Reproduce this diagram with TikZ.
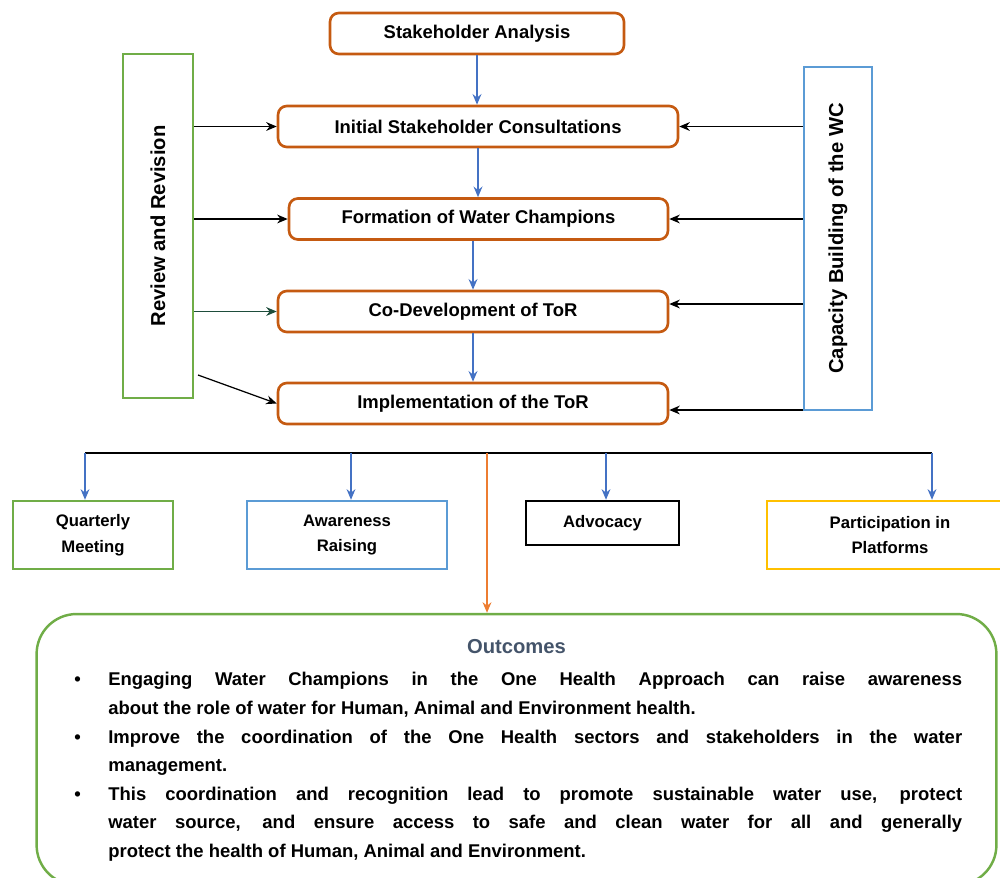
\documentclass[tikz,border=0pt]{standalone}
\usepackage{fontspec}
\setmainfont{Liberation Sans}
\usetikzlibrary{positioning,arrows.meta,shapes}

\definecolor{boxorange}{HTML}{C55A11}
\definecolor{boxgreen}{HTML}{70AD47}
\definecolor{boxblue}{HTML}{5B9BD5}
\definecolor{boxyellow}{HTML}{FFC000}
\definecolor{flowblue}{HTML}{4472C4}
\definecolor{arroworange}{HTML}{ED7D31}
\definecolor{darkgreen}{HTML}{1E4D3B}
\definecolor{titleslate}{HTML}{44546A}

\newcommand{\outbullet}{\noindent\llap{\textbullet\hspace{0.55cm}}}

\begin{document}
\begin{tikzpicture}[x=0.02cm,y=-0.02cm]
       \tikzstyle{arrow} = [line width=0.7pt,-{Stealth[length=6pt,width=5pt]}]
       \tikzstyle{flow} = [line width=1.2pt,draw=flowblue,-{Stealth[length=6pt,width=5pt]}]
       \tikzset{stage/.style = {rectangle, rounded corners=5pt, draw=boxorange, line width=1.5pt, text centered, minimum height=0.82cm, inner sep=0pt, font=\bfseries\fontsize{10.5}{12}\selectfont}, }
       \tikzset{side/.style = {rectangle, draw, line width=1.3pt, text centered, inner sep=0pt, font=\bfseries\fontsize{11.5}{13}\selectfont}, }
       \tikzset{action/.style = {rectangle, draw, line width=1.4pt, align=center, minimum height=1.36cm, inner sep=0pt, font=\bfseries\fontsize{9.5}{14.7}\selectfont}, }
       \useasboundingbox (0,0) rectangle (1000,877);

       % main steps
       \node[stage, minimum width=5.88cm] (SA) at (477,33.5) {Stakeholder Analysis};
       \node[stage, minimum width=8cm] (ISC) at (478,126.5) {Initial Stakeholder Consultations};
       \node[stage, minimum width=7.58cm] (FWC) at (478.5,219) {Formation of Water Champions};
       \node[stage, minimum width=7.8cm] (CDT) at (473,311.5) {Co-Development of ToR};
       \node[stage, minimum width=7.8cm] (IT) at (473,403.5) {Implementation of the ToR};

       % side boxes
       \node[side, draw=boxgreen, minimum width=1.4cm, minimum height=6.88cm] (RR) at (158,226) {\rotatebox{90}{Review and Revision}};
       \node[side, draw=boxblue, minimum width=1.36cm, minimum height=6.86cm] (CB) at (838,238.5) {\rotatebox{90}{Capacity Building of the WC}};

       \draw[flow] (SA.south) -- (SA.south |- ISC.north);
       \draw[flow] (ISC.south) -- (ISC.south |- FWC.north);
       \draw[flow] (FWC.south -| CDT.north) -- (CDT.north);
       \draw[flow] (CDT.south) -- (IT.north);

       \coordinate (RRfoot) at (198,375);
       \draw[arrow] (RR.east |- ISC.west) -- (ISC.west);
       \draw[arrow] (RR.east |- FWC.west) -- (FWC.west);
       \draw[arrow, draw=darkgreen] (RR.east |- CDT.west) -- (CDT.west);
       \draw[arrow] (RRfoot) -- (IT.west);

       \draw[arrow] (CB.west |- ISC.east) -- (ISC.east);
       \draw[arrow] (CB.west |- FWC.east) -- (FWC.east);
       \draw[arrow] (CB.west |- 0,304) -- (CDT.east |- 0,304);
       \draw[arrow] (CB.west |- 0,410) -- (IT.east |- 0,410);

       % activities
       \node[action, draw=boxgreen, minimum width=3.2cm] (QM) at (93,535) {Quarterly\\Meeting};
       \node[action, draw=boxblue, minimum width=4cm] (AR) at (347,535) {Awareness\\Raising};
       \node[action, draw=black, minimum width=3.06cm, minimum height=0.88cm] (ADV) at (602.5,523) {Advocacy};
       \node[action, draw=boxyellow, minimum width=4.92cm] (PP) at (890,535) {Participation in\\Platforms};

       \coordinate (barL) at (85,453);
       \coordinate (barAR) at (351,453);
       \coordinate (barOut) at (487,453);
       \coordinate (barADV) at (606,453);
       \coordinate (barR) at (932,453);
       \draw[line width=1.6pt] (barL) -- (barR);
       \draw[flow] (barL) -- (barL |- QM.north);
       \draw[flow] (barAR) -- (barAR |- AR.north);
       \draw[flow] (barADV) -- (barADV |- ADV.north);
       \draw[flow] (barR) -- (barR |- PP.north);

       % outcomes
       \node[draw=boxgreen, line width=1.4pt, rounded corners=0.8cm, minimum width=19.2cm, minimum height=5.42cm] (OUT) at (516.5,749.5) {};
       \draw[line width=1.2pt, draw=arroworange, -{Stealth[length=6pt,width=5pt]}] (barOut) -- (barOut |- OUT.north);
       \node[below=0.4cm of OUT.north, text=titleslate, font=\bfseries\fontsize{11.5}{13}\selectfont] (OT) {Outcomes};
       \node[anchor=north west, inner sep=0pt, text width=17.08cm, align=justify, font=\bfseries\fontsize{10.5}{16.3}\selectfont] (OTX) at (108,672)
       {\outbullet Engaging Water Champions in the One Health Approach can raise awareness\linebreak about the role of water for Human, Animal and Environment health.\par
       \outbullet Improve the coordination of the One Health sectors and stakeholders in the water\linebreak management.\par
       \outbullet This coordination and recognition lead to promote sustainable water use, protect\linebreak water source, and ensure access to safe and clean water for all and generally\linebreak protect the health of Human, Animal and Environment.\par};

\end{tikzpicture}
\end{document}
